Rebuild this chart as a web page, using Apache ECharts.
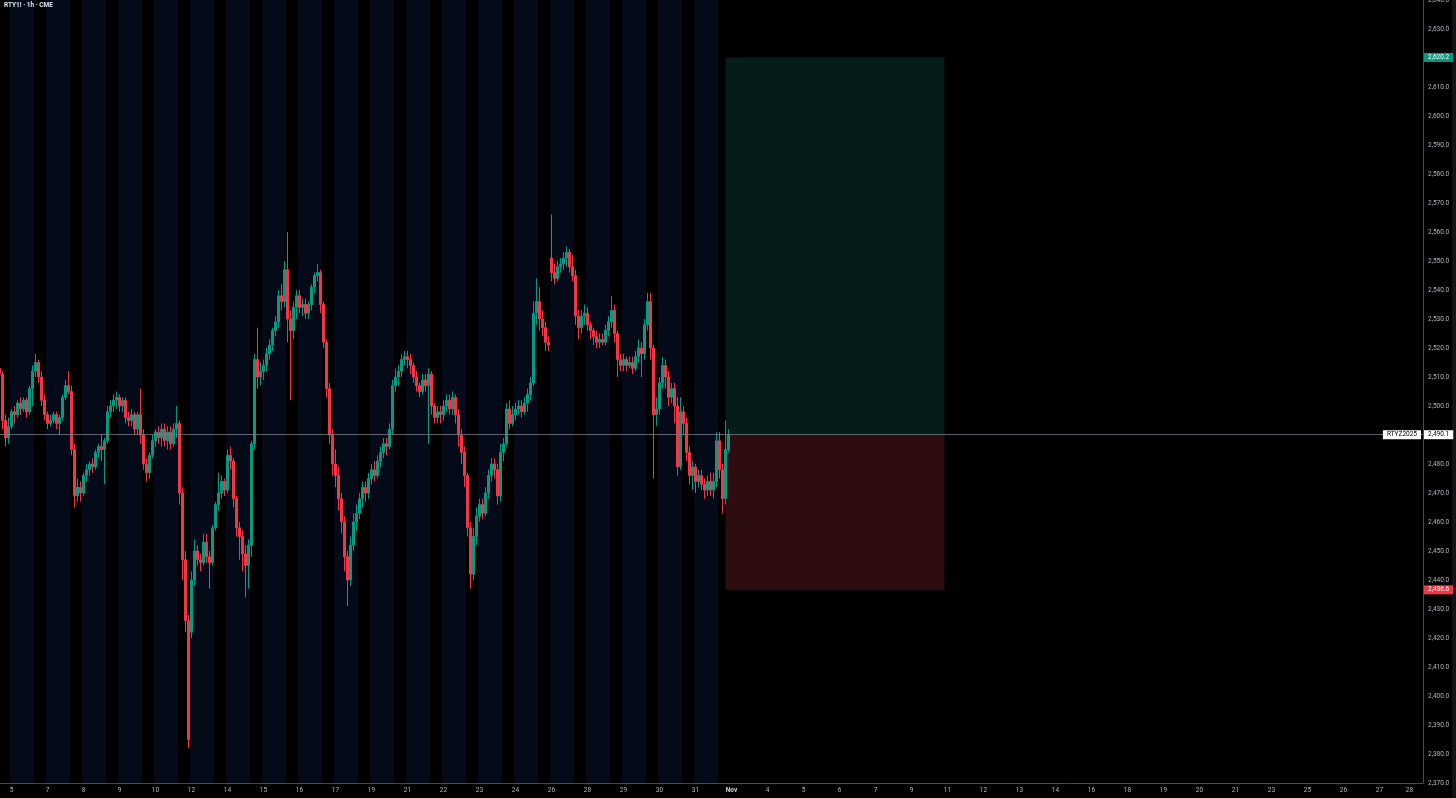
<!DOCTYPE html>
<html>
<head>
<meta charset="utf-8">
<title>RTY1! · 1h · CME</title>
<script src="https://cdn.jsdelivr.net/npm/echarts@6/dist/echarts.min.js"></script>
<style>
  html, body { margin: 0; padding: 0; background: #000; }
  #chart { width: 1456px; height: 798px; }
</style>
</head>
<body>
<div id="chart"></div>
<script>
// one slot ~ 2 hourly bars, a CME session (18:00-17:00) is 12 slots
var preSlots = 4 // tail of Fri Oct 3 RTH
var sessionLabels = ['5', '7', '8', '9', '10', '12', '14', '15', '16', '17', '19', '21', '22', '23', '24', '26', '28', '29', '30', '31',
  'Nov', '4', '5', '6', '7', '9', '11', '12', '13', '14', '16', '18', '19', '20', '21', '23', '25', '26', '27', '28']
var sessionSlots = [12, 12, 12, 12, 12, 12, 12, 12, 12, 12, 12, 12, 12, 12, 12, 12, 12, 12, 12, 12,
  12, 12, 12, 12, 12, 12, 12, 12, 12, 12, 12, 12, 12, 12, 12, 12, 12, 12, 10, 5]
var pastSessions = 20
var overnightSlots = 8

// [open, high, low, close]
var week1 = [
  [2513, 2515, 2506, 2511], [2511, 2512, 2492, 2495], [2495, 2497, 2486, 2489], [2489, 2496, 2487, 2493],
  [2493, 2499, 2492, 2498], [2498, 2500, 2494, 2497], [2497, 2502, 2496, 2501], [2501, 2503, 2497, 2499],
  [2499, 2503, 2498, 2502], [2502, 2503, 2496, 2498], [2498, 2507, 2497, 2506], [2506, 2514, 2500, 2512],
  [2512, 2518, 2510, 2515], [2515, 2516, 2508, 2510], [2510, 2512, 2500, 2502], [2502, 2504, 2495, 2497],
  [2497, 2498, 2492, 2494], [2494, 2497, 2493, 2495], [2495, 2498, 2494, 2497], [2497, 2498, 2492, 2494],
  [2494, 2497, 2490, 2496], [2496, 2504, 2495, 2503], [2503, 2509, 2502, 2507], [2507, 2512, 2504, 2505],
  [2505, 2507, 2483, 2485], [2485, 2487, 2465, 2469], [2469, 2475, 2467, 2472], [2472, 2474, 2467, 2470],
  [2470, 2477, 2469, 2476], [2476, 2480, 2474, 2478], [2478, 2481, 2476, 2480], [2480, 2482, 2477, 2479],
  [2479, 2485, 2478, 2484], [2484, 2487, 2482, 2486], [2486, 2490, 2481, 2485], [2485, 2489, 2473, 2488],
  [2488, 2500, 2487, 2498], [2498, 2502, 2496, 2500], [2500, 2504, 2498, 2502], [2502, 2505, 2499, 2503],
  [2503, 2504, 2498, 2500], [2500, 2503, 2498, 2502], [2502, 2503, 2494, 2496], [2496, 2498, 2493, 2495],
  [2495, 2499, 2493, 2497], [2497, 2498, 2490, 2492], [2492, 2498, 2490, 2497], [2497, 2506, 2487, 2490],
  [2490, 2492, 2478, 2480], [2480, 2482, 2474, 2477], [2477, 2484, 2475, 2483], [2483, 2490, 2482, 2488],
  [2488, 2492, 2486, 2491], [2491, 2493, 2487, 2489], [2489, 2494, 2486, 2492], [2492, 2494, 2486, 2488],
  [2488, 2493, 2485, 2491], [2491, 2493, 2485, 2487], [2487, 2494, 2486, 2492], [2492, 2500, 2489, 2494],
  [2494, 2495, 2466, 2470], [2470, 2472, 2440, 2447], [2447, 2450, 2422, 2426], [2426, 2428, 2382, 2385]
]
var week2 = [
  [2422, 2443, 2420, 2440], [2440, 2454, 2438, 2450], [2450, 2452, 2445, 2447], [2447, 2449, 2443, 2446],
  [2446, 2456, 2445, 2453], [2453, 2456, 2446, 2448], [2448, 2450, 2437, 2446], [2446, 2459, 2445, 2458],
  [2458, 2467, 2457, 2466], [2466, 2477, 2464, 2470], [2470, 2476, 2468, 2474], [2474, 2475, 2469, 2471],
  [2471, 2485, 2470, 2483], [2483, 2486, 2478, 2481], [2481, 2482, 2465, 2468], [2468, 2469, 2455, 2458],
  [2458, 2460, 2447, 2455], [2455, 2457, 2443, 2449], [2449, 2452, 2434, 2445], [2445, 2454, 2437, 2452],
  [2452, 2488, 2448, 2487], [2487, 2518, 2485, 2516], [2516, 2527, 2506, 2510], [2510, 2515, 2507, 2512],
  [2512, 2516, 2509, 2514], [2514, 2520, 2512, 2518], [2518, 2523, 2516, 2521], [2521, 2527, 2519, 2526],
  [2526, 2531, 2524, 2529], [2529, 2540, 2527, 2538], [2538, 2542, 2533, 2536], [2536, 2550, 2534, 2547],
  [2547, 2560, 2522, 2530], [2530, 2533, 2502, 2526], [2526, 2536, 2523, 2534], [2534, 2540, 2530, 2538],
  [2538, 2540, 2532, 2534], [2534, 2537, 2531, 2535], [2535, 2537, 2530, 2532], [2532, 2536, 2530, 2535],
  [2535, 2542, 2533, 2541], [2541, 2546, 2539, 2545], [2545, 2549, 2543, 2546], [2546, 2547, 2532, 2535],
  [2535, 2536, 2520, 2522], [2522, 2523, 2503, 2506], [2506, 2508, 2487, 2490], [2490, 2492, 2476, 2480],
  [2480, 2485, 2472, 2476], [2476, 2479, 2464, 2468], [2468, 2470, 2456, 2460], [2460, 2462, 2443, 2448],
  [2448, 2450, 2431, 2440], [2440, 2455, 2438, 2452], [2452, 2463, 2450, 2460], [2460, 2466, 2457, 2463],
  [2463, 2470, 2461, 2468], [2468, 2474, 2465, 2472], [2472, 2474, 2467, 2470], [2470, 2477, 2468, 2475]
]
var week3 = [
  [2475, 2480, 2473, 2478], [2478, 2481, 2474, 2476], [2476, 2483, 2475, 2481], [2481, 2486, 2479, 2484],
  [2484, 2489, 2482, 2487], [2487, 2489, 2483, 2486], [2486, 2494, 2485, 2492], [2492, 2509, 2490, 2507],
  [2507, 2513, 2505, 2510], [2510, 2514, 2507, 2512], [2512, 2518, 2510, 2516], [2516, 2519, 2514, 2517],
  [2517, 2519, 2513, 2516], [2516, 2518, 2511, 2514], [2514, 2515, 2508, 2510], [2510, 2512, 2505, 2507],
  [2507, 2508, 2503, 2505], [2505, 2511, 2504, 2509], [2509, 2511, 2505, 2507], [2507, 2513, 2487, 2511],
  [2511, 2512, 2497, 2500], [2500, 2501, 2494, 2496], [2496, 2500, 2494, 2498], [2498, 2500, 2494, 2497],
  [2497, 2502, 2495, 2500], [2500, 2504, 2498, 2502], [2502, 2504, 2497, 2499], [2499, 2505, 2497, 2503],
  [2503, 2504, 2494, 2497], [2497, 2499, 2486, 2490], [2490, 2492, 2480, 2484], [2484, 2486, 2472, 2476],
  [2476, 2477, 2455, 2458], [2458, 2460, 2437, 2442], [2442, 2458, 2440, 2455], [2455, 2465, 2452, 2462],
  [2462, 2468, 2460, 2466], [2466, 2468, 2461, 2463], [2463, 2472, 2462, 2470], [2470, 2478, 2468, 2476],
  [2476, 2482, 2474, 2480], [2480, 2482, 2475, 2478], [2478, 2480, 2466, 2469], [2469, 2487, 2467, 2484],
  [2484, 2489, 2481, 2487], [2487, 2501, 2486, 2499], [2499, 2502, 2492, 2494], [2494, 2500, 2493, 2497],
  [2497, 2501, 2495, 2499], [2499, 2502, 2497, 2500], [2500, 2502, 2496, 2498], [2498, 2503, 2497, 2501],
  [2501, 2506, 2498, 2504], [2504, 2510, 2502, 2508], [2508, 2536, 2507, 2532], [2532, 2544, 2528, 2536],
  [2536, 2541, 2526, 2530], [2530, 2533, 2524, 2527], [2527, 2529, 2519, 2522], [2522, 2524, 2519, 2521]
]
var week4 = [
  [2551, 2566, 2543, 2546], [2546, 2549, 2542, 2544], [2544, 2550, 2543, 2548], [2548, 2551, 2546, 2549],
  [2549, 2553, 2547, 2551], [2551, 2555, 2548, 2553], [2553, 2554, 2546, 2548], [2548, 2552, 2543, 2545],
  [2545, 2547, 2528, 2531], [2531, 2533, 2523, 2527], [2527, 2533, 2525, 2531], [2531, 2535, 2528, 2532],
  [2532, 2534, 2526, 2528], [2528, 2529, 2523, 2526], [2526, 2527, 2521, 2524], [2524, 2526, 2520, 2522],
  [2522, 2525, 2520, 2523], [2523, 2525, 2521, 2522], [2522, 2528, 2521, 2526], [2526, 2531, 2524, 2529],
  [2529, 2538, 2527, 2533], [2533, 2535, 2522, 2525], [2525, 2526, 2510, 2516], [2516, 2518, 2512, 2514],
  [2514, 2518, 2512, 2516], [2516, 2517, 2512, 2514], [2514, 2517, 2513, 2515], [2515, 2517, 2511, 2513],
  [2513, 2519, 2512, 2517], [2517, 2523, 2515, 2520], [2520, 2522, 2510, 2518], [2518, 2530, 2516, 2528],
  [2528, 2539, 2526, 2536], [2536, 2539, 2516, 2520], [2520, 2521, 2475, 2497], [2497, 2503, 2493, 2499],
  [2499, 2510, 2497, 2508], [2508, 2517, 2506, 2514], [2514, 2516, 2506, 2510], [2510, 2512, 2500, 2503],
  [2503, 2508, 2501, 2506], [2506, 2508, 2494, 2500], [2500, 2503, 2476, 2479], [2479, 2503, 2478, 2498],
  [2498, 2500, 2490, 2494], [2494, 2496, 2481, 2484], [2484, 2486, 2473, 2476], [2476, 2481, 2471, 2479],
  [2479, 2480, 2470, 2474], [2474, 2478, 2472, 2476], [2476, 2478, 2471, 2473], [2473, 2475, 2468, 2471],
  [2471, 2476, 2469, 2474], [2474, 2477, 2469, 2471], [2471, 2477, 2468, 2474], [2474, 2491, 2472, 2488],
  [2488, 2491, 2475, 2478], [2478, 2480, 2463, 2468], [2468, 2495, 2466, 2485], [2485, 2492, 2484, 2490.1]
]

// long position tool
var entryPrice = 2490.1
var targetPrice = 2620.2
var stopPrice = 2436.6
var positionFrom = 242
var positionTo = 315
var symbolName = 'RTYZ2025'

var sessionStart = []
var s = preSlots
sessionSlots.forEach(function (n) { sessionStart.push(s); s += n })
var totalSlots = s
var categories = []
for (var i = 0; i < totalSlots; i++) categories.push(String(i))
var labelAt = {}
sessionLabels.forEach(function (t, i) { labelAt[sessionStart[i]] = t })
var bands = sessionStart.slice(0, pastSessions).map(function (st) { return [st, st + overnightSlots - 1] })

var candles = week1.concat(week2, week3, week4).map(function (d) {
  return [d[0], d[3], d[2], d[1]]
})

var axisColor = '#4a4c55'
var textColor = '#b2b5be'
var font = 'Roboto, "Noto Sans", sans-serif'

var chart = echarts.init(document.getElementById('chart'))
chart.setOption({
  animation: false,
  backgroundColor: '#000000',
  grid: { left: -2, right: 33, top: 0, bottom: 15, outerBoundsMode: 'none', containLabel: false },
  xAxis: {
    type: 'category',
    data: categories,
    boundaryGap: true,
    axisLine: { show: true, lineStyle: { color: axisColor, width: 1 } },
    axisTick: { show: false },
    splitLine: { show: false },
    axisLabel: {
      interval: function (idx) { return labelAt[idx] !== undefined },
      formatter: function (v, idx) {
        var t = labelAt[idx] || ''
        return t === 'Nov' ? '{b|Nov}' : t
      },
      color: textColor,
      fontSize: 6.5,
      fontFamily: font,
      margin: 4,
      rich: { b: { fontWeight: 'bold', fontSize: 6.5, color: '#d1d4dc', fontFamily: font } }
    }
  },
  yAxis: {
    type: 'value',
    position: 'right',
    min: 2370,
    max: 2640,
    interval: 10,
    axisLine: { show: true, lineStyle: { color: axisColor, width: 1 } },
    axisTick: { show: false },
    splitLine: { show: false },
    axisLabel: {
      color: textColor,
      fontSize: 6.5,
      fontFamily: font,
      margin: 5,
      formatter: function (v) {
        return v.toLocaleString('en-US', { minimumFractionDigits: 1, maximumFractionDigits: 1 })
      }
    }
  },
  series: [
    {
      type: 'custom',
      silent: true,
      z: 0,
      data: bands,
      encode: { x: [0, 1] },
      renderItem: function (params, api) {
        var a = api.coord([api.value(0), 2500])
        var b = api.coord([api.value(1), 2500])
        var w = api.size([1, 0])[0]
        return {
          type: 'rect',
          shape: { x: a[0] - w / 2, y: params.coordSys.y, width: b[0] - a[0] + w, height: params.coordSys.height },
          style: { fill: '#050a18' }
        }
      }
    },
    {
      type: 'candlestick',
      z: 3,
      data: candles,
      barWidth: 1.6,
      itemStyle: {
        color: '#089981',
        color0: '#f23645',
        borderColor: '#089981',
        borderColor0: '#f23645',
        borderWidth: 1
      },
      markArea: {
        silent: true,
        data: [
          [{ xAxis: positionFrom, yAxis: entryPrice, itemStyle: { color: '#061c18' } }, { xAxis: positionTo, yAxis: targetPrice }],
          [{ xAxis: positionFrom, yAxis: stopPrice, itemStyle: { color: '#2e0d10' } }, { xAxis: positionTo, yAxis: entryPrice }]
        ]
      },
      markLine: {
        silent: true,
        symbol: 'none',
        label: { show: false },
        lineStyle: { color: '#787b86', width: 1, type: 'solid', opacity: 0.8 },
        data: [{ yAxis: entryPrice }]
      }
    }
  ]
})

function badge (price, text, bg, fg, x, align) {
  var y = chart.convertToPixel({ yAxisIndex: 0 }, price)
  return {
    type: 'text',
    z: 100,
    style: {
      x: x, y: y, text: text, fill: fg, backgroundColor: bg,
      padding: [1, 4, 1, 4], fontSize: 6.5, fontFamily: font,
      align: align, verticalAlign: 'middle'
    }
  }
}
var gridRight = 1456 - 33
chart.setOption({
  graphic: [
    { type: 'text', left: 4, top: 2, style: { text: 'RTY1! · 1h · CME', fill: '#e0e3eb', fontSize: 6.5, fontWeight: 'bold', fontFamily: font } },
    badge(targetPrice, '2,620.2', '#089981', '#ffffff', gridRight + 1, 'left'),
    badge(entryPrice, '2,490.1', '#ffffff', '#000000', gridRight + 1, 'left'),
    badge(entryPrice, symbolName, '#ffffff', '#000000', gridRight - 2, 'right'),
    badge(stopPrice, '2,436.6', '#f23645', '#ffffff', gridRight + 1, 'left'),
    { type: 'rect', shape: { x: 1452, y: 0, width: 4, height: 798 }, style: { fill: '#141414' } }
  ]
})
</script>
</body>
</html>
